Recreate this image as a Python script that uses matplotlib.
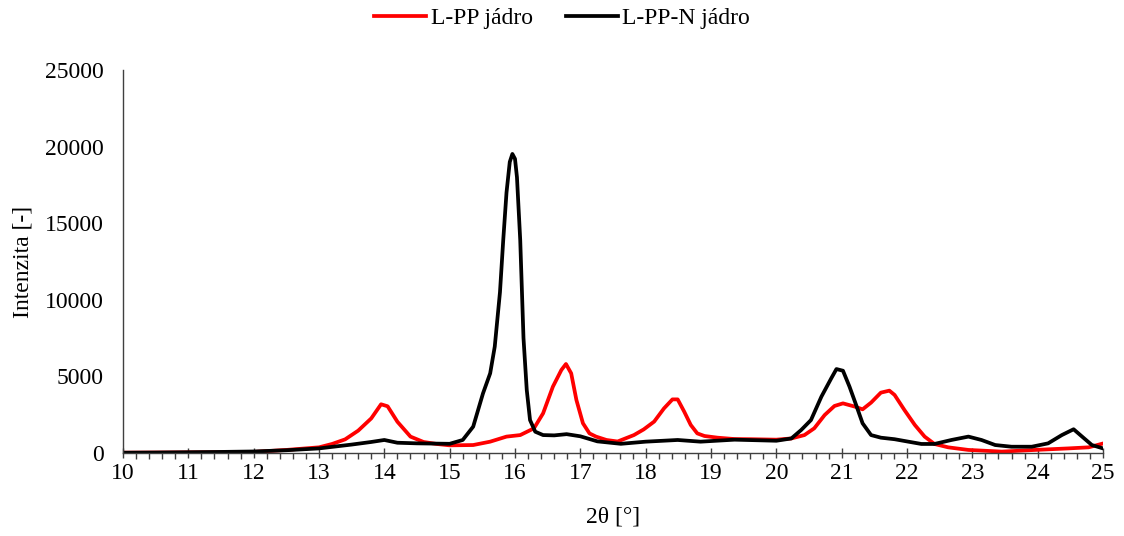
import matplotlib
matplotlib.use("Agg")
import matplotlib.pyplot as plt
from matplotlib.ticker import MultipleLocator

plt.rcParams['font.family'] = ['Liberation Serif', 'DejaVu Serif']

# L-PP jádro (red)
x_red = [10.0, 10.5, 11.0, 11.5, 12.0, 12.5, 13.0, 13.2, 13.4, 13.6, 13.8, 13.95, 14.05,
         14.2, 14.4, 14.6, 14.8, 15.0, 15.36, 15.62, 15.87, 16.08, 16.29, 16.43, 16.58,
         16.71, 16.78, 16.86, 16.94, 17.04, 17.14, 17.24, 17.4, 17.57, 17.82, 17.97,
         18.13, 18.28, 18.41, 18.49, 18.59, 18.69, 18.79, 18.9, 19.1, 19.36, 19.61,
         20.0, 20.23, 20.43, 20.58, 20.74, 20.89, 21.02, 21.2, 21.32, 21.45, 21.6,
         21.73, 21.81, 21.96, 22.12, 22.27, 22.42, 22.63, 22.94, 23.45, 23.96, 24.47,
         24.78, 25.0]
y_red = [20, 30, 40, 50, 70, 200, 370, 590, 890, 1460, 2260, 3180, 3050,
         2040, 1070, 720, 590, 500, 520, 740, 1070, 1170, 1610, 2590, 4330,
         5420, 5810, 5200, 3460, 1940, 1280, 1070, 850, 750, 1170, 1540,
         2050, 2910, 3500, 3500, 2700, 1830, 1280, 1110, 1000, 910, 900,
         870, 950, 1170, 1610, 2480, 3070, 3240, 3030, 2850, 3290, 3940,
         4070, 3790, 2810, 1830, 1070, 590, 370, 200, 90, 200, 300,
         370, 620]

# L-PP-N jádro (black)
x_blk = [10.0, 10.5, 11.0, 11.5, 12.0, 12.5, 13.0, 13.5, 13.8, 14.0, 14.2, 14.5, 15.0,
         15.2, 15.36, 15.51, 15.62, 15.69, 15.77, 15.82, 15.87, 15.92, 15.96, 16.0, 16.03,
         16.08, 16.13, 16.18, 16.23, 16.31, 16.43, 16.6, 16.79, 17.0, 17.26, 17.62, 18.0,
         18.49, 18.84, 19.36, 20.0, 20.23, 20.38, 20.53, 20.69, 20.84, 20.92, 21.02,
         21.12, 21.23, 21.32, 21.45, 21.6, 21.81, 22.02, 22.22, 22.42, 22.68, 22.94,
         23.14, 23.35, 23.6, 23.91, 24.16, 24.37, 24.55, 24.68, 24.83, 25.0]
y_blk = [20, 30, 50, 70, 100, 180, 300, 550, 720, 850, 670, 630, 600,
         850, 1720, 3890, 5200, 6940, 10500, 13900, 17000, 19000, 19520, 19200, 18000,
         13900, 7500, 4110, 2150, 1390, 1170, 1150, 1230, 1090, 760, 600, 740,
         850, 740, 870, 800, 950, 1500, 2150, 3680, 4870, 5480, 5370,
         4330, 3030, 1940, 1170, 1000, 900, 740, 590, 590, 850, 1070,
         850, 520, 410, 410, 630, 1170, 1550, 1070, 520, 300]

fig = plt.figure(figsize=(11.24, 5.36), dpi=100)
ax = fig.add_axes([123/1124, 1-453/536, 980/1124, 383/536])

ax.plot(x_red, y_red, color='#ff0000', lw=2.7, label='L-PP jádro', solid_joinstyle='round')
ax.plot(x_blk, y_blk, color='#000000', lw=2.7, label='L-PP-N jádro', solid_joinstyle='round')

ax.set_xlim(10, 25)
ax.set_ylim(0, 25000)
ax.xaxis.set_major_locator(MultipleLocator(1))
ax.xaxis.set_minor_locator(MultipleLocator(0.2))
ax.yaxis.set_major_locator(MultipleLocator(5000))

for s in ['top', 'right']:
    ax.spines[s].set_visible(False)
for s in ['left', 'bottom']:
    ax.spines[s].set_color('#404040')
    ax.spines[s].set_linewidth(1.0)

ax.tick_params(axis='x', which='major', direction='inout', length=7, width=1.0,
               color='#404040', labelsize=17, pad=4)
ax.tick_params(axis='x', which='minor', direction='out', length=4, width=1.0,
               color='#404040')
ax.tick_params(axis='y', which='major', length=0, labelsize=17, pad=14)

ax.set_xlabel('2θ [°]', fontsize=17, labelpad=16)
ax.set_ylabel('Intenzita [-]', fontsize=17, labelpad=8)

fig.legend(loc='upper center', bbox_to_anchor=(0.5, 1.025), ncol=2, frameon=False,
           fontsize=17, handlelength=2.2, columnspacing=1.4, handletextpad=0.2)

fig.savefig('out.png', dpi=100)
